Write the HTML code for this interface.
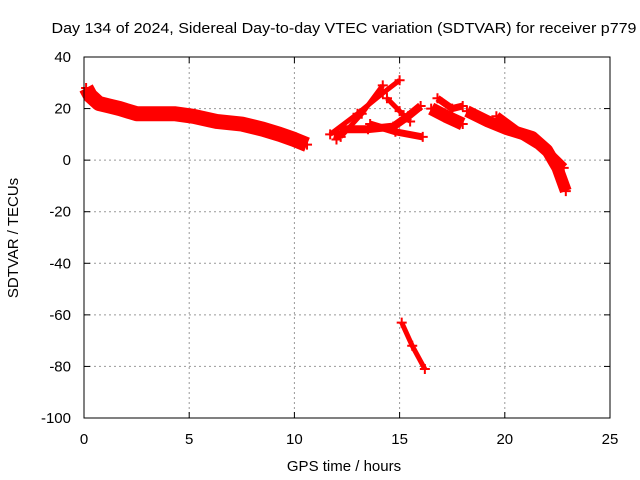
<!DOCTYPE html>
<html><head><meta charset="utf-8"><style>
body{margin:0;background:#fff}
svg{display:block;font-family:"Liberation Sans",sans-serif;font-size:15px}
</style></head><body>
<svg id="chart" width="640" height="480">
<text x="344" y="33" text-anchor="middle" textLength="585" lengthAdjust="spacingAndGlyphs">Day 134 of 2024, Sidereal Day-to-day VTEC variation (SDTVAR) for receiver p779</text>
<text x="344" y="471" text-anchor="middle">GPS time / hours</text>
<text transform="translate(18,238) rotate(-90)" text-anchor="middle">SDTVAR / TECUs</text>
<g id="grid"></g><g id="marks"></g>
<rect x="84" y="57" width="526" height="361" fill="none" stroke="#000"/>
</svg>
<script>
const xTicks=[0,5,10,15,20,25];
const yTicks=[40,20,0,-20,-40,-60,-80,-100];
const track1=[[0.1,28],[0.3,25],[0.7,22],[1.2,21],[1.7,20],[2.5,18],[3.5,18],[4.3,18],[5.2,17],[6.3,15],[7.5,14],[8.5,12],[9.3,10],[10,8],[10.6,6]];
const track2=[[11.7,10],[13,18],[14.2,26],[15.0,31]];
const track3=[[12.2,9],[13.2,18],[14.2,29]];
const track4=[[14.4,24],[15.0,19],[15.5,15]];
const track5=[[12.2,12],[13.5,12],[14.7,13],[15.4,17],[16.0,21]];
const track6=[[13.6,14],[14.8,11],[16.1,9]];
const track7=[[16.5,20],[17.2,17],[18.0,14]];
const track8=[[16.8,24],[17.5,20],[18.0,21]];
const track9=[[18.2,19],[19.2,15],[20.1,12],[21.3,9],[22.0,4],[22.5,-3],[22.9,-12]];
const track10=[[19.6,17],[20.6,11],[21.6,6],[22.3,1],[22.8,-3]];
const track11=[[12.0,8],[12.1,11]];
const track12=[[15.1,-63],[15.6,-72],[16.2,-81]];
const tracks=[track1,track2,track3,track4,track5,track6,track7,track8,track9,track10,track11,track12];
const widths=[15,5,5,5,8,7,13,7,12,10,7,5];
const X=t=>84+t*526/25, Y=v=>57+(40-v)*361/140;
const NS="http://www.w3.org/2000/svg";
const grid=document.getElementById('grid'), marks=document.getElementById('marks');
function mk(tag,attrs,parent){const e=document.createElementNS(NS,tag);for(const k in attrs)e.setAttribute(k,attrs[k]);parent.appendChild(e);return e;}
xTicks.forEach(t=>{
  if(t>0&&t<25){const g=mk('line',{x1:X(t),x2:X(t),y1:57,y2:418,stroke:'#999','stroke-dasharray':'2,3'},grid);
  
  }
  mk('line',{x1:X(t),x2:X(t),y1:418,y2:412,stroke:'#000'},grid);
  mk('line',{x1:X(t),x2:X(t),y1:57,y2:63,stroke:'#000'},grid);
  const l=mk('text',{x:X(t),y:444,'text-anchor':'middle'},grid);l.textContent=t;
  
  
});
yTicks.forEach(v=>{
  if(v<40&&v>-100){const g=mk('line',{x1:84,x2:610,y1:Y(v),y2:Y(v),stroke:'#999','stroke-dasharray':'2,3'},grid);
  
  }
  mk('line',{x1:84,x2:90,y1:Y(v),y2:Y(v),stroke:'#000'},grid);
  mk('line',{x1:610,x2:604,y1:Y(v),y2:Y(v),stroke:'#000'},grid);
  const l=mk('text',{x:71,y:Y(v)+5,'text-anchor':'end'},grid);l.textContent=v;
  
  
});
tracks.forEach((tr,i)=>{
  const p=mk('polyline',{points:tr.map(d=>X(d[0])+','+Y(d[1])).join(' '),fill:'none',stroke:'#f00','stroke-width':widths[i],'stroke-linejoin':'round'},marks);
  
  
  tr.forEach(d=>{
    const m=mk('path',{d:`M${X(d[0])-5},${Y(d[1])}h10M${X(d[0])},${Y(d[1])-5}v10`,stroke:'#f00','stroke-width':2},marks);
    
    
  });
});
</script>
</body></html>
